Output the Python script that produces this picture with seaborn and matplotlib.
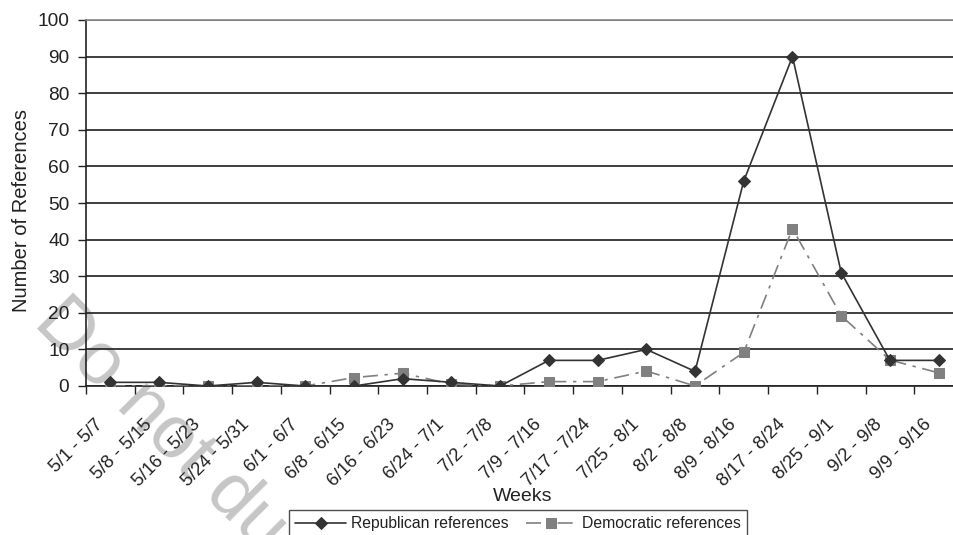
import matplotlib
matplotlib.use("Agg")
import matplotlib.pyplot as plt
from matplotlib.transforms import ScaledTranslation
import numpy as np
import pandas as pd
import seaborn as sns

weeks = ["5/1 - 5/7", "5/8 - 5/15", "5/16 - 5/23", "5/24 - 5/31", "6/1 - 6/7",
         "6/8 - 6/15", "6/16 - 6/23", "6/24 - 7/1", "7/2 - 7/8", "7/9 - 7/16",
         "7/17 - 7/24", "7/25 - 8/1", "8/2 - 8/8", "8/9 - 8/16", "8/17 - 8/24",
         "8/25 - 9/1", "9/2 - 9/8", "9/9 - 9/16"]
republican = [1, 1, 0, 1, 0, 0, 2, 1, 0, 7, 7, 10, 4, 56, 90, 31, 7, 7]
democratic = [0, 0, 0, 0, 0, 2.3, 3.5, 0.5, 0, 1.2, 1.2, 4.1, 0, 9.2, 43, 19.2, 7.1, 3.6]
yticks = list(range(0, 101, 10))

sns.set_theme(style="white")
plt.rcParams["font.family"] = ["Liberation Sans", "DejaVu Sans"]

df = pd.DataFrame({
    "week": np.arange(len(weeks)),
    "Republican references": republican,
    "Democratic references": democratic,
})

fig = plt.figure(figsize=(9.54, 5.35), dpi=100)
ax = fig.add_axes([86 / 954, 1 - 386 / 535, 877 / 954, 366 / 535])
ax.set_facecolor("none")

sns.lineplot(data=df, x="week", y="Republican references", ax=ax,
             color="#333333", linewidth=1.2, marker="D", markersize=6.5,
             markeredgecolor="#333333", label="Republican references", zorder=4)
sns.lineplot(data=df, x="week", y="Democratic references", ax=ax,
             color="#808080", linewidth=1.2, marker="s", markersize=7,
             markeredgecolor="#808080", label="Democratic references", zorder=3)
ax.lines[1].set_dashes([9, 4, 2, 4])

ax.set_xlim(-0.5, len(weeks) - 0.5)
ax.set_ylim(0, 100)
ax.set_yticks(yticks)
ax.set_yticklabels([str(v) for v in yticks], fontsize=13.8, color="#222222")

# horizontal gridlines
ax.set_axisbelow(True)
ax.yaxis.grid(True, color="#1e1e1e", linewidth=1.2)
ax.xaxis.grid(False)

# category labels centred, boundary tick marks as minor ticks
ax.set_xticks(np.arange(len(weeks)))
ax.set_xticklabels(weeks, rotation=45, ha="right", va="center",
                   rotation_mode="anchor", fontsize=13.2, color="#222222")
ax.set_xticks(np.arange(len(weeks) + 1) - 0.5, minor=True)
ax.tick_params(axis="x", which="major", length=0, pad=26)
ax.tick_params(axis="x", which="minor", length=6, width=1, color="#222222",
               direction="out", bottom=True)
ax.tick_params(axis="y", which="major", length=6, width=1, color="#222222",
               direction="out", left=True, pad=6)
shift = ScaledTranslation(-0.10, 0, fig.dpi_scale_trans)
for lab in ax.get_xticklabels():
    lab.set_transform(lab.get_transform() + shift)

for side in ["left", "bottom"]:
    ax.spines[side].set_color("#222222")
    ax.spines[side].set_linewidth(1.2)
ax.spines["top"].set_color("#8a8a8a")
ax.spines["top"].set_linewidth(1.2)
ax.spines["right"].set_visible(False)

ax.set_xlabel("Weeks", fontsize=14, color="#222222", labelpad=0)
ax.xaxis.set_label_coords((523 - 86) / 877, -(488 - 386) / 366)
ax.set_ylabel("Number of References", fontsize=14.5, color="#222222")
ax.yaxis.set_label_coords(-(86 - 31) / 877, (386 - 211) / 366)

leg = ax.legend(loc="upper center", bbox_to_anchor=(518 / 954, 1 - 510 / 535),
                bbox_transform=fig.transFigure, ncol=2, fontsize=11.3,
                frameon=True, fancybox=False, shadow=False, handlelength=3.2,
                handletextpad=0.35, columnspacing=1.1, borderpad=0.4,
                borderaxespad=0)
leg.get_frame().set_edgecolor("#222222")
leg.get_frame().set_linewidth(1.0)
for t in leg.get_texts():
    t.set_color("#222222")

# faint diagonal watermark
fig.text(46 / 954, 1 - 310 / 535, "Do not du", fontsize=54,
         color="#c6c6c6", rotation=-45, rotation_mode="anchor",
         ha="left", va="center", zorder=-1)

fig.savefig("out.png", dpi=100)
